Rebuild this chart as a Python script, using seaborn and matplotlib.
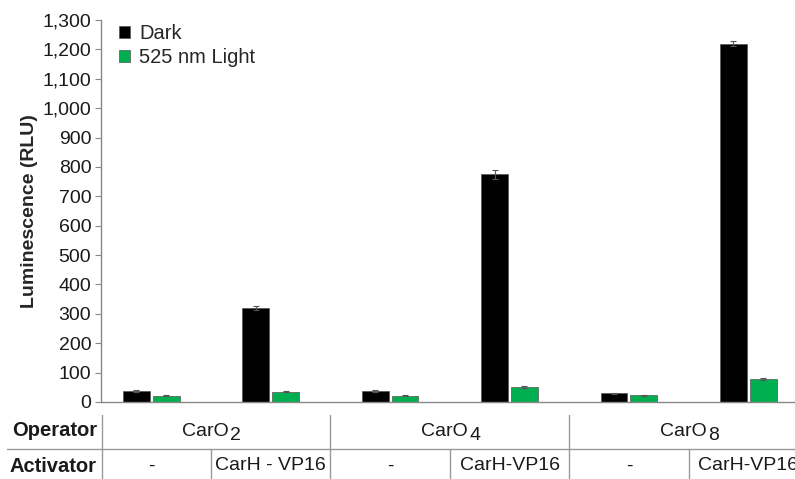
import numpy as np
import pandas as pd
import matplotlib
matplotlib.use("Agg")
import matplotlib.pyplot as plt
import matplotlib.ticker as mticker
from matplotlib.lines import Line2D
from matplotlib.transforms import blended_transform_factory, ScaledTranslation
import seaborn as sns

# chart data
operators = ["CarO", "CarO", "CarO"]
operator_subs = ["2", "4", "8"]
activators = ["-", "CarH - VP16", "-", "CarH-VP16", "-", "CarH-VP16"]
conditions = ["Dark", "525 nm Light"]
dark_values = [38, 320, 37, 775, 30, 1220]
dark_errors = [3, 6, 3, 15, 2, 10]
light_values = [22, 35, 22, 50, 23, 78]
light_errors = [2, 2, 2, 3, 2, 4]
colors = ["#000000", "#00b050"]

sns.set_theme(style="white")
plt.rcParams["font.family"] = ["Liberation Sans", "DejaVu Sans"]

samples = [f"s{i}" for i in range(len(activators))]
df = pd.DataFrame({
    "sample": samples * 2,
    "condition": [conditions[0]] * len(samples) + [conditions[1]] * len(samples),
    "value": dark_values + light_values,
})

fig = plt.figure(figsize=(7.95, 4.79), dpi=100)
ax = fig.add_axes([101 / 795, 1 - 402 / 479, 1 - 101 / 795, (402 - 20) / 479])

sns.barplot(data=df, x="sample", y="value", hue="condition", order=samples,
            hue_order=conditions, palette=colors, saturation=1, width=0.5,
            gap=0.1, errorbar=None, edgecolor="#555555", linewidth=0.5, ax=ax)

# error bars on top of the bars seaborn drew
for container, errs in zip(ax.containers, [dark_errors, light_errors]):
    xs = [p.get_x() + p.get_width() / 2 for p in container.patches]
    ys = [p.get_height() for p in container.patches]
    ax.errorbar(xs, ys, yerr=errs, fmt="none", ecolor="#555555",
                elinewidth=0.8, capsize=2, capthick=0.8)

ax.set_ylim(0, 1300)
ax.set_xlim(-0.42, 5.39)
ax.yaxis.set_major_locator(mticker.MultipleLocator(100))
ax.yaxis.set_major_formatter(mticker.FuncFormatter(lambda v, p: f"{int(v):,}"))
ax.tick_params(axis="y", left=True, length=4, width=0.8, color="#888888",
               labelsize=14, labelcolor="#1a1a1a", pad=3)
ax.tick_params(axis="x", bottom=False, labelbottom=False)
ax.set_xlabel("")
ax.set_ylabel("Luminescence (RLU)", fontsize=14, fontweight="bold", labelpad=3)
for side in ["top", "right"]:
    ax.spines[side].set_visible(False)
for side in ["left", "bottom"]:
    ax.spines[side].set_color("#888888")
    ax.spines[side].set_linewidth(1.0)

ax.legend(loc="upper left", bbox_to_anchor=(119 / 795, 1 - 24 / 479),
          bbox_transform=fig.transFigure, frameon=False, fontsize=14.5,
          handlelength=0.55, handleheight=0.55, handletextpad=0.45,
          labelspacing=0.25, borderpad=0, borderaxespad=0)

# table under the chart
tr = blended_transform_factory(ax.transData, fig.transFigure)
def fy(py):
    return 1 - py / 479

line_kw = dict(color="#999999", linewidth=1.0)
fig.add_artist(Line2D([7 / 795, 1], [fy(449), fy(449)], transform=fig.transFigure, **line_kw))
fig.add_artist(Line2D([102 / 795, 102 / 795], [fy(415), 0], transform=fig.transFigure, **line_kw))
for xb in [1.5, 3.5]:
    fig.add_artist(Line2D([xb, xb], [fy(415), 0], transform=tr, **line_kw))
for xb in [0.5, 2.5, 4.5]:
    fig.add_artist(Line2D([xb, xb], [fy(449), 0], transform=tr, **line_kw))

fig.text(97 / 795, fy(431), "Operator", ha="right", va="center",
         fontsize=14.5, fontweight="bold", color="#1a1a1a")
fig.text(97 / 795, fy(466), "Activator", ha="right", va="center",
         fontsize=14.5, fontweight="bold", color="#1a1a1a")
shift = ScaledTranslation(-4 / 72, 0, fig.dpi_scale_trans)
for i, (op, sub) in enumerate(zip(operators, operator_subs)):
    t = fig.text(2 * i + 0.5, fy(431), op, transform=tr + shift, ha="center",
                 va="center", fontsize=14, color="#1a1a1a")
    # lowered index after "CarO"
    ax.annotate(sub, xy=(1, 0), xycoords=t, xytext=(1, -3),
                textcoords="offset points", ha="left", va="bottom",
                fontsize=14, color="#1a1a1a", annotation_clip=False)
for i, act in enumerate(activators):
    fig.text(i, fy(466), act, transform=tr, ha="center", va="center",
             fontsize=14, color="#1a1a1a")

fig.savefig("out.png", dpi=100)
